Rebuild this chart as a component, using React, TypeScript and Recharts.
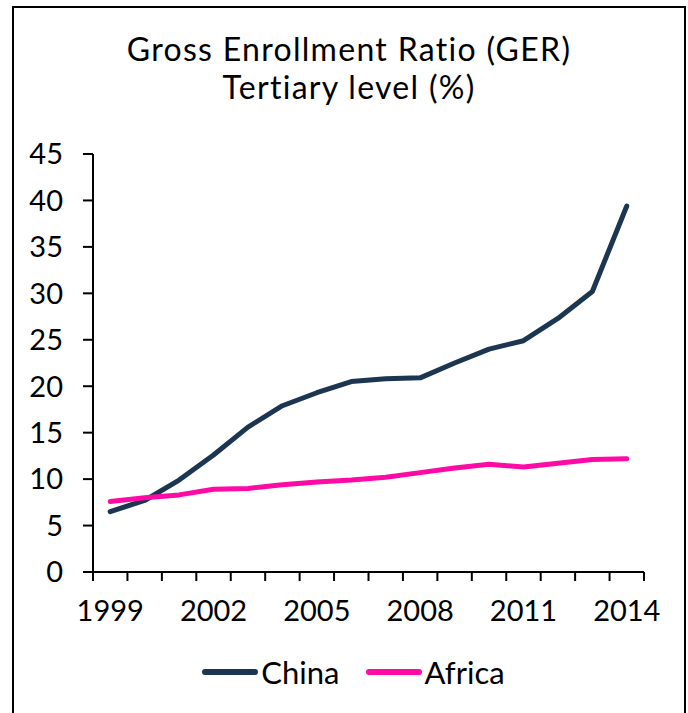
import React from "react";
import { LineChart, Line, XAxis, YAxis, Legend } from "recharts";

const years = [1999, 2000, 2001, 2002, 2003, 2004, 2005, 2006, 2007, 2008, 2009, 2010, 2011, 2012, 2013, 2014];
const china = [6.5, 7.7, 9.9, 12.6, 15.6, 17.9, 19.3, 20.5, 20.8, 20.9, 22.5, 24.0, 24.9, 27.3, 30.2, 39.4];
const africa = [7.6, 8.0, 8.3, 8.9, 9.0, 9.4, 9.7, 9.9, 10.2, 10.7, 11.2, 11.6, 11.3, 11.7, 12.1, 12.2];
const yTicks = [0, 5, 10, 15, 20, 25, 30, 35, 40, 45];
const labelYears = [1999, 2002, 2005, 2008, 2011, 2014];
const titleLines = ["Gross Enrollment Ratio (GER)", "Tertiary level (%)"];

const CHINA_COLOR = "#1c3651";
const AFRICA_COLOR = "#ff0aa5";
const FONT = "Lato, 'Open Sans', sans-serif";

const data = years.map((y, i) => ({ year: y, pos: i + 0.5, china: china[i], africa: africa[i] }));
const boundaryTicks = years.map((_, i) => i).concat([years.length]);
const labelTicks = labelYears.map((y) => years.indexOf(y) + 0.5);

const legendItems = [
  { name: "China", color: CHINA_COLOR },
  { name: "Africa", color: AFRICA_COLOR },
];

const renderLegend = () => (
  <div style={{ display: "flex", justifyContent: "center", alignItems: "center", paddingLeft: 62, paddingTop: 33, fontFamily: FONT, fontSize: 31, color: "#000" }}>
    {legendItems.map((it, idx) => (
      <div key={it.name} style={{ display: "flex", alignItems: "center", marginLeft: idx === 0 ? 0 : 25 }}>
        <svg width={58} height={8} style={{ display: "block" }}>
          <line x1={4} y1={4} x2={54} y2={4} stroke={it.color} strokeWidth={6} strokeLinecap="round" />
        </svg>
        <span style={{ marginLeft: 2, lineHeight: "34px" }}>{it.name}</span>
      </div>
    ))}
  </div>
);

export default function App() {
  return (
    <div style={{ position: "absolute", left: 0, top: 0, width: 688, height: 713, background: "#fff", overflow: "hidden" }}>
      <div style={{ position: "absolute", left: 12, top: 6, width: 674, height: 730, border: "2px solid #000", boxSizing: "border-box" }} />
      {titleLines.map((t, i) => (
        <div
          key={t}
          style={{ position: "absolute", left: 0, top: 29.5 + i * 38.6, width: 698, height: 38.5, textAlign: "center", fontFamily: FONT, fontSize: 32, letterSpacing: 1.3, lineHeight: "38.5px", color: "#000", whiteSpace: "nowrap" }}
        >
          {t}
        </div>
      ))}
      <div style={{ position: "absolute", left: 0, top: 0 }}>
        <LineChart width={688} height={713} data={data} margin={{ top: 154, right: 44, left: 0, bottom: 31 }}>
          <XAxis
            xAxisId="a_ticks"
            type="number"
            dataKey="pos"
            domain={[0, years.length]}
            ticks={boundaryTicks}
            tick={() => <g />}
            tickSize={9}
            height={10}
            stroke="#000"
            axisLine={{ stroke: "#000", strokeWidth: 2 }}
            tickLine={{ stroke: "#000", strokeWidth: 2 }}
            allowDataOverflow
          />
          <XAxis
            xAxisId="b_lab"
            type="number"
            dataKey="pos"
            domain={[0, years.length]}
            ticks={labelTicks}
            tickFormatter={(v: number) => String(years[Math.round(v - 0.5)])}
            axisLine={false}
            tickLine={false}
            tickSize={0}
            tickMargin={18}
            height={40}
            interval={0}
            tick={{ fill: "#000", fontSize: 29, fontFamily: FONT }}
          />
          <YAxis
            type="number"
            domain={[0, 45]}
            ticks={yTicks}
            width={93}
            tickSize={10}
            tickMargin={20}
            interval={0}
            axisLine={{ stroke: "#000", strokeWidth: 2 }}
            tickLine={{ stroke: "#000", strokeWidth: 2 }}
            tick={{ fill: "#000", fontSize: 29, fontFamily: FONT }}
          />
          <Legend verticalAlign="bottom" height={60} content={renderLegend} />
          <Line xAxisId="b_lab" type="linear" dataKey="china" name="China" stroke={CHINA_COLOR} strokeWidth={5} strokeLinecap="round" strokeLinejoin="round" dot={false} activeDot={false} isAnimationActive={false} />
          <Line xAxisId="b_lab" type="linear" dataKey="africa" name="Africa" stroke={AFRICA_COLOR} strokeWidth={5} strokeLinecap="round" strokeLinejoin="round" dot={false} activeDot={false} isAnimationActive={false} />
        </LineChart>
      </div>
    </div>
  );
}
